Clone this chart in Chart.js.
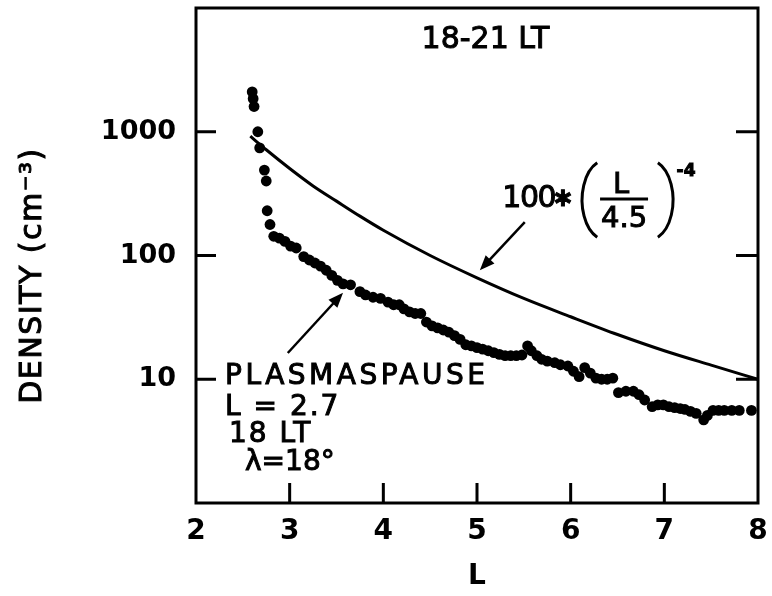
<!DOCTYPE html>
<html>
<head>
<meta charset="utf-8">
<script src="https://cdn.jsdelivr.net/npm/chart.js@4.4.0/dist/chart.umd.min.js"></script>
<style>
  html, body { margin: 0; padding: 0; background: #fff; }
  canvas { display: block; }
</style>
</head>
<body>
<canvas id="densidad" width="772" height="596"></canvas>
<script>
const shellL = [2.60, 2.61, 2.62, 2.66, 2.68, 2.73, 2.75, 2.76, 2.79, 2.83, 2.89, 2.95, 3.01, 3.07, 3.15, 3.21, 3.27, 3.33, 3.39, 3.45,
  3.51, 3.57, 3.65, 3.75, 3.81, 3.89, 3.97, 4.05, 4.11, 4.17, 4.22, 4.28, 4.34, 4.40, 4.46, 4.52, 4.58, 4.64, 4.70, 4.76,
  4.82, 4.88, 4.94, 5.00, 5.06, 5.12, 5.18, 5.24, 5.30, 5.36, 5.42, 5.48, 5.54, 5.58, 5.64, 5.69, 5.75, 5.83, 5.89, 5.97,
  6.03, 6.09, 6.15, 6.21, 6.27, 6.33, 6.39, 6.45, 6.51, 6.59, 6.67, 6.73, 6.79, 6.87, 6.93, 6.99, 7.05, 7.11, 7.17, 7.22,
  7.28, 7.34, 7.42, 7.46, 7.52, 7.58, 7.64, 7.72, 7.80, 7.93];
const density = [2100, 1850, 1600, 1000, 740, 490, 400, 230, 178, 143, 138, 130, 119, 115, 98, 92, 87, 82, 76, 69,
  63, 59, 58, 51, 48, 46, 45, 42, 40, 40, 37, 35, 34, 34, 29, 27, 26, 25, 24, 22.5,
  21, 19, 18.6, 18, 17.5, 17, 16.4, 15.9, 15.5, 15.5, 15.5, 15.7, 18.6, 17, 15.5, 14.5, 14, 13.6, 13.1, 12.8,
  11.6, 10.5, 12.4, 11.2, 10.2, 10, 10, 10.2, 7.8, 8, 8, 7.5, 6.8, 6.0, 6.2, 6.2, 6.0, 5.9, 5.8, 5.7,
  5.5, 5.3, 4.7, 5.1, 5.6, 5.6, 5.6, 5.6, 5.6, 5.6];

// model curve 100*(L/4.5)^-4
const modelL = [2.58, 2.75, 3.0, 3.25, 3.5, 3.75, 4.0, 4.5, 5.0, 5.5, 6.0, 6.5, 7.0, 7.5, 8.0];
const modelDensity = [920, 715, 505, 365, 275, 208, 160, 100, 66, 45, 32, 23, 17, 13, 10];

const yTicks = [10, 100, 1000];
const xInnerTicks = [3, 4, 5, 6, 7];

const FONT = '"DejaVu Sans", sans-serif';

function texto(ctx, s, x, y, size, align, spacing, weight) {
  ctx.font = (weight || 'normal') + ' ' + size + 'px ' + FONT;
  ctx.letterSpacing = (spacing || 0) + 'px';
  ctx.textAlign = align || 'left';
  ctx.textBaseline = 'middle';
  ctx.lineWidth = 1;
  ctx.strokeText(s, x, y);
  ctx.fillText(s, x, y);
  ctx.letterSpacing = '0px';
}

function flecha(ctx, x1, y1, x2, y2) {
  const ang = Math.atan2(y2 - y1, x2 - x1);
  const len = 15, half = 6;
  ctx.lineWidth = 2.5;
  ctx.beginPath();
  ctx.moveTo(x1, y1);
  ctx.lineTo(x2 - Math.cos(ang) * len * 0.7, y2 - Math.sin(ang) * len * 0.7);
  ctx.stroke();
  ctx.beginPath();
  ctx.moveTo(x2, y2);
  ctx.lineTo(x2 - Math.cos(ang) * len - Math.sin(ang) * half, y2 - Math.sin(ang) * len + Math.cos(ang) * half);
  ctx.lineTo(x2 - Math.cos(ang) * len + Math.sin(ang) * half, y2 - Math.sin(ang) * len - Math.cos(ang) * half);
  ctx.closePath();
  ctx.fill();
}

const marcos = {
  id: 'marcos',
  afterDraw(chart) {
    const { ctx, chartArea: a, scales: { x, y } } = chart;
    ctx.save();
    ctx.strokeStyle = '#000';
    ctx.fillStyle = '#000';

    // frame
    ctx.lineWidth = 3;
    ctx.strokeRect(a.left, a.top, a.right - a.left, a.bottom - a.top);

    // inward tick marks
    ctx.beginPath();
    xInnerTicks.forEach(v => {
      const px = x.getPixelForValue(v);
      ctx.moveTo(px, a.bottom);
      ctx.lineTo(px, a.bottom - 20);
    });
    yTicks.forEach(v => {
      const py = y.getPixelForValue(v);
      ctx.moveTo(a.left, py);
      ctx.lineTo(a.left + 20, py);
      ctx.moveTo(a.right - 22, py);
      ctx.lineTo(a.right, py);
    });
    ctx.stroke();

    // y axis title
    ctx.save();
    ctx.translate(a.left - 163, (a.top + a.bottom) / 2 + 20);
    ctx.rotate(-Math.PI / 2);
    texto(ctx, 'DENSITY (cm\u207B\u00B3)', 0, 0, 30, 'center', 1.5);
    ctx.restore();

    // top label
    texto(ctx, '18-21 LT', x.getPixelForValue(5.09), y.getPixelForValue(5500), 30, 'center', 0);

    // formula label
    const fx = x.getPixelForValue(5.27), fy = y.getPixelForValue(286);
    texto(ctx, '100', fx, fy, 30, 'left', -1.5);
    texto(ctx, '\u2217', fx + 50, fy, 26, 'left', 0, 'bold');
    const bx = x.getPixelForValue(6.57);
    ctx.lineWidth = 3;
    ctx.beginPath();
    ctx.moveTo(bx - 24, fy);
    ctx.lineTo(bx + 24, fy);
    ctx.stroke();
    texto(ctx, 'L', bx - 3, fy - 14, 29, 'center', 0);
    texto(ctx, '4.5', bx, fy + 20, 29, 'center', 0);
    ctx.lineWidth = 3;
    ctx.beginPath();
    ctx.ellipse(bx - 18, fy + 1, 24, 40, 0, Math.PI * 0.62, Math.PI * 1.38);
    ctx.stroke();
    ctx.beginPath();
    ctx.ellipse(bx + 25, fy + 1, 24, 40, 0, -Math.PI * 0.38, Math.PI * 0.38);
    ctx.stroke();
    texto(ctx, '-4', bx + 62, fy - 27, 17, 'center', 0, 'bold');
    flecha(ctx, x.getPixelForValue(5.51), y.getPixelForValue(186),
      x.getPixelForValue(5.03), y.getPixelForValue(76));

    // plasmapause note
    const px = x.getPixelForValue(2.31), py = y.getPixelForValue(10.4);
    texto(ctx, 'PLASMASPAUSE', px, py, 28, 'left', 3.5);
    texto(ctx, 'L = 2.7', px, py + 31, 28, 'left', 2);
    texto(ctx, '18 LT', px + 4, py + 58, 28, 'left', 2);
    texto(ctx, '\u03BB=18\u00B0', px + 20, py + 86, 28, 'left', 0);
    flecha(ctx, x.getPixelForValue(2.98), y.getPixelForValue(16.3),
      x.getPixelForValue(3.57), y.getPixelForValue(50));

    ctx.restore();
  }
};

const puntos = shellL.map((l, i) => ({ x: l, y: density[i] }));
const modelo = modelL.map((l, i) => ({ x: l, y: modelDensity[i] }));

const ctx = document.getElementById('densidad').getContext('2d');
const myChart = new Chart(ctx, {
  type: 'scatter',
  data: {
    datasets: [{
      label: 'Densidad medida',
      data: puntos,
      backgroundColor: '#000',
      borderWidth: 0,
      pointRadius: 5.4
    },
    {
      label: '100*(L/4.5)^-4',
      type: 'line',
      data: modelo,
      borderColor: '#000',
      borderWidth: 3,
      pointRadius: 0,
      cubicInterpolationMode: 'monotone',
      fill: false
    }]
  },
  options: {
    responsive: false,
    animation: false,
    events: [],
    layout: { padding: { top: 8, right: 14, bottom: 0, left: 0 } },
    plugins: { legend: { display: false }, tooltip: { enabled: false } },
    scales: {
      x: {
        type: 'linear',
        min: 2,
        max: 8,
        grid: { display: false, drawTicks: false },
        border: { display: false },
        ticks: { stepSize: 1, color: '#000', padding: 12, font: { family: FONT, size: 28, weight: 'bold' } },
        title: { display: true, text: 'L', color: '#000', font: { family: FONT, size: 28, weight: 'bold' }, padding: { top: 0, bottom: 2 } },
        afterFit(s) { s.height = 93; s.paddingLeft = 0; s.paddingRight = 0; }
      },
      y: {
        type: 'logarithmic',
        min: 1,
        max: 10000,
        grid: { display: false, drawTicks: false },
        border: { display: false },
        ticks: { color: '#000', padding: 20, font: { family: FONT, size: 27, weight: 'bold' }, callback: v => String(v) },
        afterBuildTicks(s) { s.ticks = yTicks.map(v => ({ value: v })); },
        afterFit(s) { s.width = 196; s.paddingTop = 0; s.paddingBottom = 0; }
      }
    }
  },
  plugins: [marcos]
});
</script>
</body>
</html>
